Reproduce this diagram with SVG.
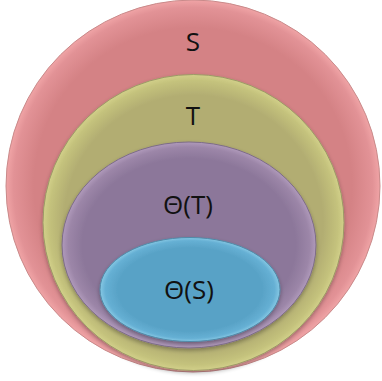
<svg xmlns="http://www.w3.org/2000/svg" width="382" height="381" viewBox="0 0 382 381">
<defs>
<radialGradient id="gS" cx="0.5" cy="0.5" r="0.5">
<stop offset="0.85" stop-color="#d48285"/>
<stop offset="0.96" stop-color="#e29296"/>
<stop offset="1" stop-color="#f0a4a6"/>
</radialGradient>
<radialGradient id="gT" cx="0.5" cy="0.5" r="0.5">
<stop offset="0.86" stop-color="#b2ad72"/>
<stop offset="0.96" stop-color="#c4c27c"/>
<stop offset="1" stop-color="#d2d08a"/>
</radialGradient>
<radialGradient id="gTT" cx="0.5" cy="0.5" r="0.5">
<stop offset="0.84" stop-color="#8c779a"/>
<stop offset="0.95" stop-color="#9c86a8"/>
<stop offset="1" stop-color="#b09abb"/>
</radialGradient>
<radialGradient id="gTS" cx="0.5" cy="0.5" r="0.5">
<stop offset="0.8" stop-color="#58a2c6"/>
<stop offset="0.94" stop-color="#66b0d4"/>
<stop offset="1" stop-color="#86c8e4"/>
</radialGradient>
<filter id="sh" x="-10%" y="-10%" width="120%" height="120%">
<feGaussianBlur in="SourceAlpha" stdDeviation="2"/>
<feOffset dx="0" dy="2"/>
<feComponentTransfer><feFuncA type="linear" slope="0.3"/></feComponentTransfer>
<feMerge><feMergeNode/><feMergeNode in="SourceGraphic"/></feMerge>
</filter>
<style>
.lbl{font-family:"Open Sans","Liberation Sans",sans-serif;font-size:26px;fill:#111;text-anchor:middle}
</style>
</defs>
<g id="S">
<ellipse cx="193" cy="186" rx="187" ry="186" fill="url(#gS)" stroke="#c98a8a" stroke-width="1"/>
<text class="lbl" x="193" y="51">S</text>
</g>
<g id="T">
<ellipse cx="193.5" cy="222.5" rx="150.5" ry="148" fill="url(#gT)" stroke="#9c9a66" stroke-width="1" filter="url(#sh)"/>
<text class="lbl" x="193" y="125">T</text>
</g>
<g id="ThetaT">
<ellipse cx="189" cy="245" rx="127" ry="103" fill="url(#gTT)" stroke="#7d6c88" stroke-width="1" filter="url(#sh)"/>
<text class="lbl" x="188" y="214">Θ(T)</text>
</g>
<g id="ThetaS">
<ellipse cx="190" cy="289.5" rx="90" ry="52" fill="url(#gTS)" stroke="#4f8aa8" stroke-width="1" filter="url(#sh)"/>
<text class="lbl" x="189" y="299">Θ(S)</text>
</g>
</svg>
